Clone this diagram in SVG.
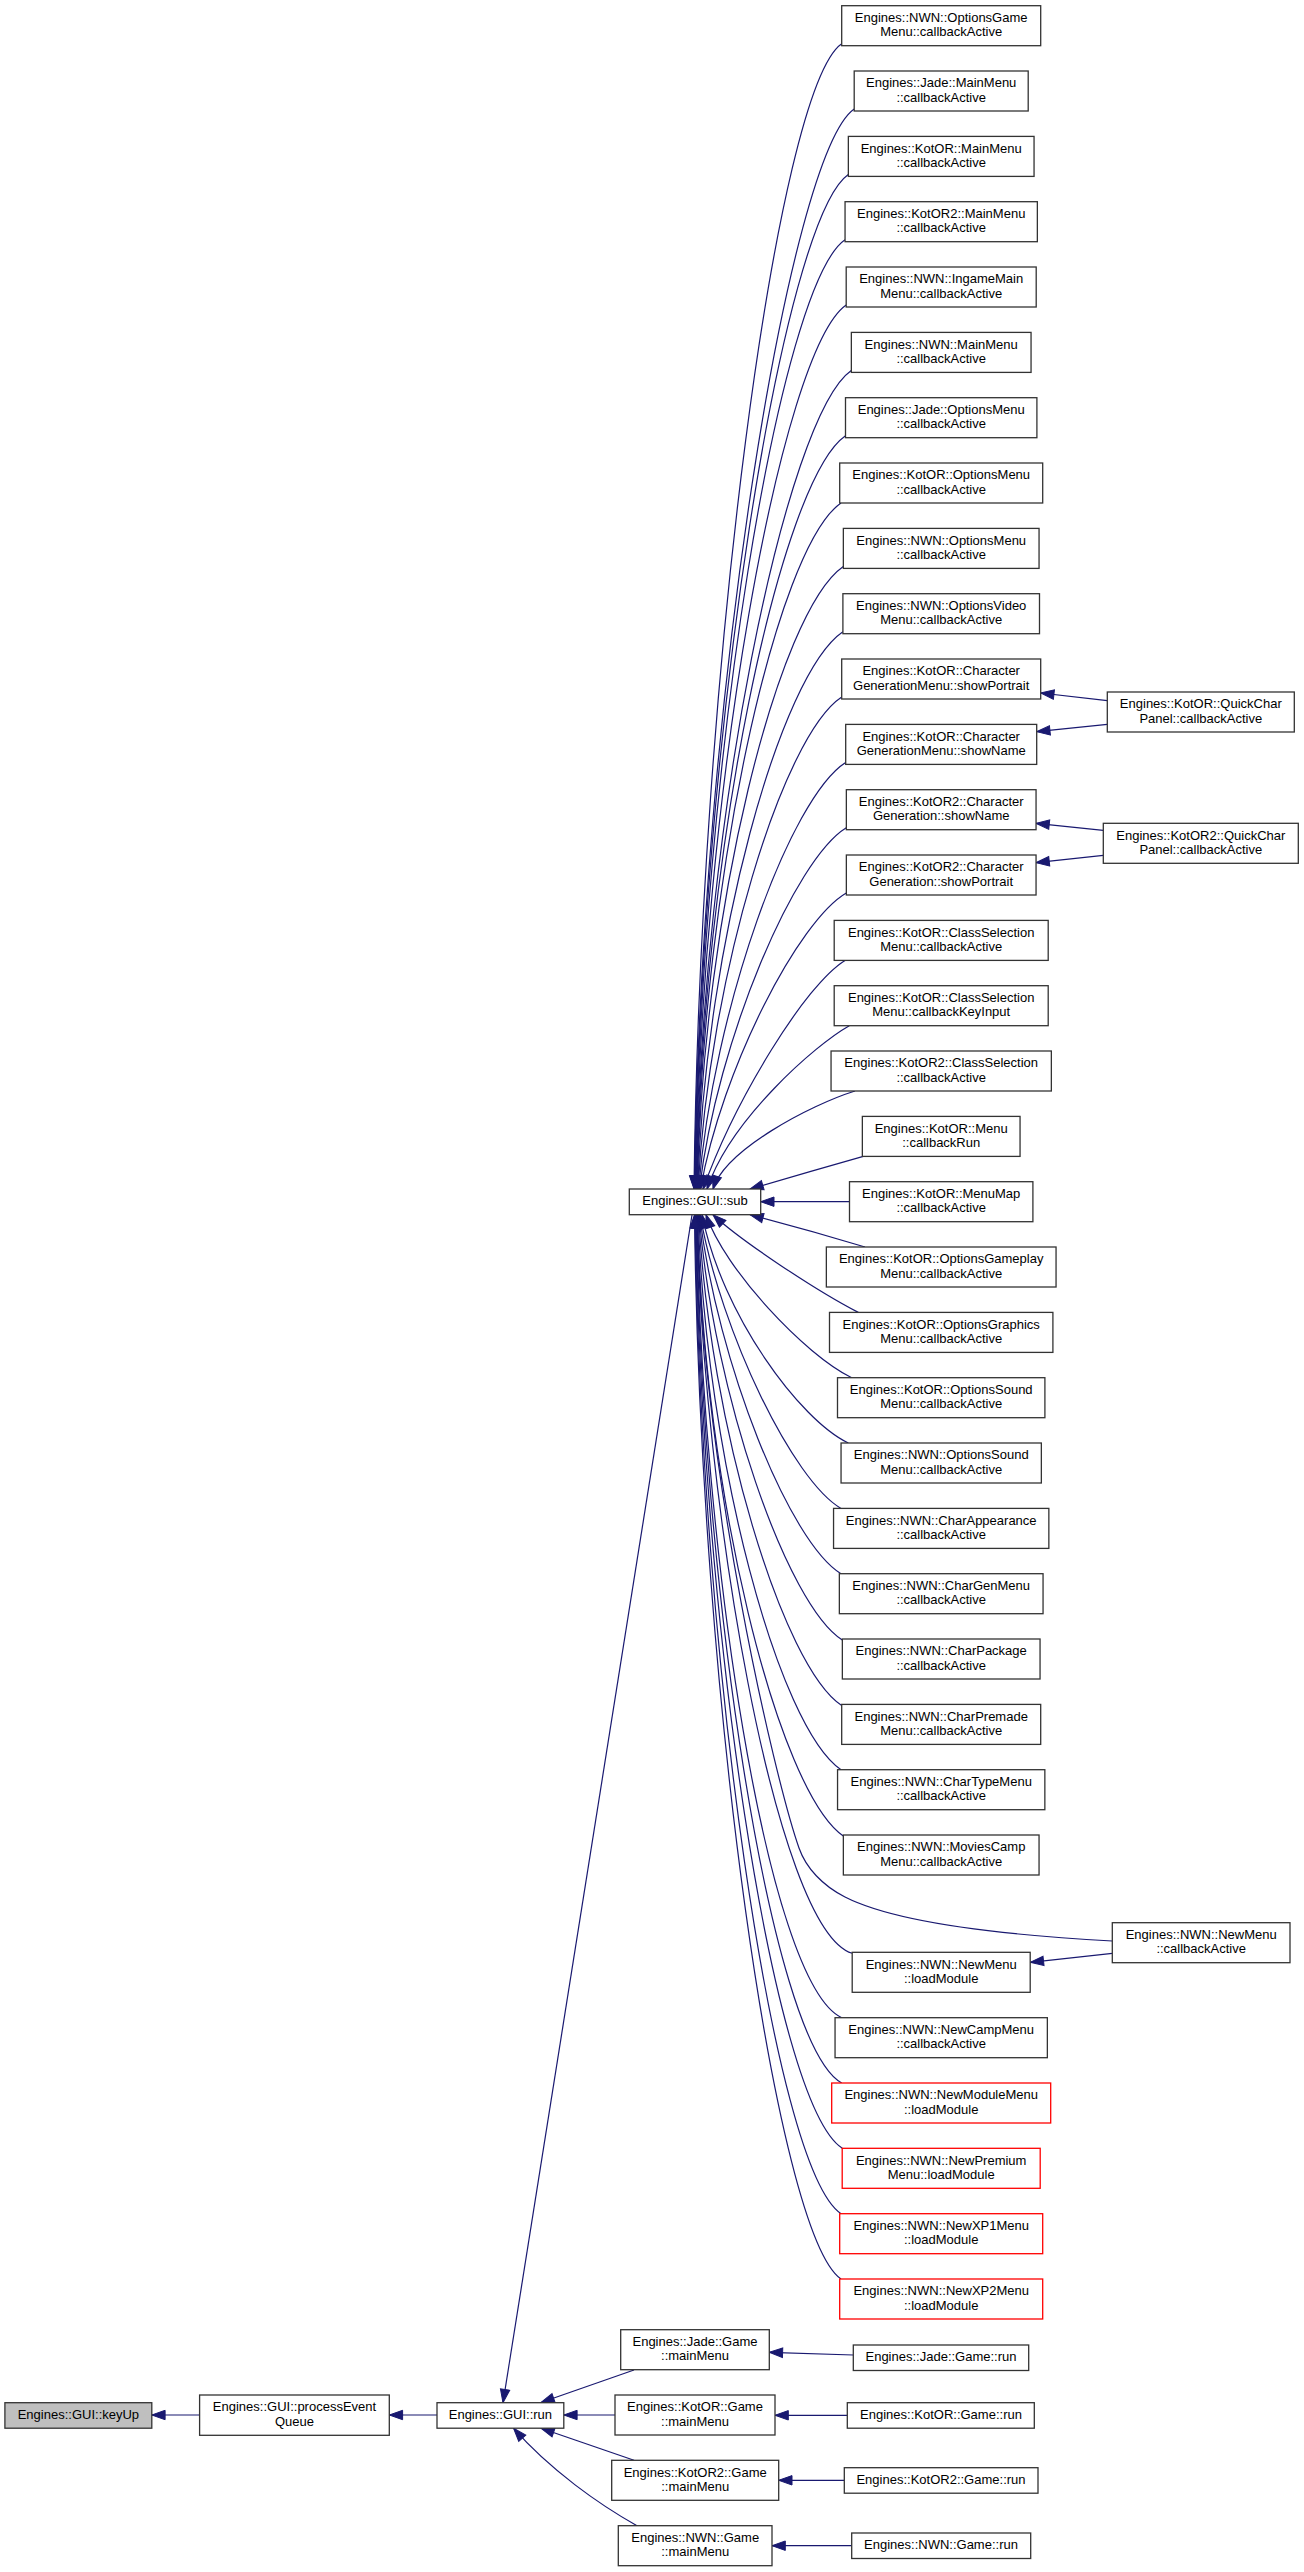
<svg xmlns="http://www.w3.org/2000/svg" width="1304" height="2572" viewBox="0 0 1304 2572">
<defs>
<style>
.n rect{fill:#fff;stroke:#333;stroke-width:1.3}
.r rect{stroke:#f00}
.g rect{fill:#bfbfbf}
text{font-family:"Liberation Sans",Arial,Helvetica,sans-serif;font-size:13px;fill:#000;text-anchor:middle}
.e path{fill:none;stroke:#191970;stroke-width:1.2;marker-end:url(#ah)}
</style>
<marker id="ah" viewBox="0 0 14 10" refX="13.3" refY="5" markerWidth="14" markerHeight="10" markerUnits="userSpaceOnUse" orient="auto" overflow="visible"><path d="M0,0.3 L13.3,5 L0,9.7 Z" fill="#191970" stroke="#191970" stroke-width="1"/></marker>
</defs>
<rect width="1304" height="2572" fill="#fff"/>
<g id="edges" class="e">
<path d="M841.7,43.7 C776.7,88.7 700,673.6 694,1189"/>
<path d="M854.2,109 C789.2,154 700.4,703 694.4,1189"/>
<path d="M848.3,174.4 C783.3,219.4 700.8,732.4 694.8,1189"/>
<path d="M845,239.7 C780,284.7 701.2,761.8 695.2,1189"/>
<path d="M846.2,305 C781.2,350 701.6,791.2 695.6,1189"/>
<path d="M851.3,370.4 C786.3,415.4 702,820.6 696,1189"/>
<path d="M845.5,435.7 C780.5,480.7 702.4,850 696.4,1189"/>
<path d="M841,503 C776,548 702.8,880.3 696.8,1189"/>
<path d="M843.3,566.4 C778.3,611.4 703.2,908.8 697.2,1189"/>
<path d="M842.9,631.7 C780.3,674.3 705.8,941.5 697.6,1189"/>
<path d="M841.7,697 C782.8,735.9 709.5,974.9 698,1189"/>
<path d="M845.7,762.4 C790.5,797.6 713.5,1007 698.6,1189"/>
<path d="M846.3,827.7 C794.8,859.2 717.7,1038 699.4,1189"/>
<path d="M846.3,893 C798.6,920.7 722.1,1067.9 700.5,1189"/>
<path d="M845,960.4 C805,985 735,1100 703,1189"/>
<path d="M849.3,1025.7 C815,1045 730,1120 707,1189"/>
<path d="M855,1091 C810,1105 725,1150 713,1189"/>
<path d="M863.3,1156.4 C830,1166 780,1180 750,1189"/>
<path d="M849.5,1201.7 L760.7,1201.7"/>
<path d="M865,1247 C832,1237 782,1223 750,1214.7"/>
<path d="M858.3,1312.4 C815,1290 740,1240 713,1214.7"/>
<path d="M851.7,1377.7 C805,1355 725,1270 706,1214.7"/>
<path d="M848.3,1443 C800,1420 722,1315 702,1214.7"/>
<path d="M841,1508.4 C793.4,1480.8 721.7,1334.7 700,1214.7"/>
<path d="M841,1573.7 C789.7,1542.4 717.9,1364.6 699.5,1214.7"/>
<path d="M842.3,1640 C787.2,1604.9 714,1396 699,1214.7"/>
<path d="M841.7,1705.4 C782.9,1666.6 710.1,1428.3 698.5,1214.7"/>
<path d="M841,1769.7 C778.6,1727.3 706.3,1461.1 698,1214.7"/>
<path d="M843.3,1836 C778.3,1791 703.5,1494.3 697.5,1214.7"/>
<path d="M1112.3,1941 C1020,1936 900,1925 845,1897 C822.7,1885.7 806,1868 799,1848 C774.5,1778 702,1468 697,1214.7"/>
<path d="M852.2,1953.3 C775,1930 703,1500 696.8,1214.7"/>
<path d="M841.7,2017.7 C766.7,1982.7 702,1552 696.5,1214.7"/>
<path d="M841.7,2083 C769.7,2043 701.5,1579.4 696,1214.7"/>
<path d="M842.3,2148.3 C772.3,2103.3 701,1616.2 695.5,1214.7"/>
<path d="M841,2213.7 C773,2168.7 700.5,1654.3 695,1214.7"/>
<path d="M841,2279 C776,2234 700,1693.6 694.5,1214.7"/>
<path d="M692,1215 L503,2402.7"/>
<path d="M634,2370 L541,2402.5"/>
<path d="M615,2415 L563.8,2415"/>
<path d="M634,2460.3 L541,2428.2"/>
<path d="M637,2525.7 C600,2505 550,2470 513.5,2428.2"/>
<path d="M437,2415 L389.3,2415"/>
<path d="M199.6,2415 L151.8,2415"/>
<path d="M853.3,2355 L769.3,2352.3"/>
<path d="M847.3,2415.3 L775,2415.3"/>
<path d="M844.3,2480.3 L778.7,2480.3"/>
<path d="M851.7,2545.7 L772,2545.7"/>
<path d="M1107.3,700.7 L1040.7,693"/>
<path d="M1107.3,724.3 L1036.7,731.7"/>
<path d="M1103.3,830.3 L1036,823.3"/>
<path d="M1103.3,855.3 L1036,862.7"/>
<path d="M1112.3,1953.3 L1030.3,1962.3"/>
</g>
<g id="n1" class="n"><rect x="841.7" y="5.7" width="199" height="40"/><text x="941.2" y="22">Engines::NWN::OptionsGame</text><text x="941.2" y="36.3">Menu::callbackActive</text></g>
<g id="n2" class="n"><rect x="854.2" y="71" width="174" height="40"/><text x="941.2" y="87.3">Engines::Jade::MainMenu</text><text x="941.2" y="101.6">::callbackActive</text></g>
<g id="n3" class="n"><rect x="848.35" y="136.4" width="185.7" height="40"/><text x="941.2" y="152.7">Engines::KotOR::MainMenu</text><text x="941.2" y="167">::callbackActive</text></g>
<g id="n4" class="n"><rect x="845.05" y="201.7" width="192.3" height="40"/><text x="941.2" y="218">Engines::KotOR2::MainMenu</text><text x="941.2" y="232.3">::callbackActive</text></g>
<g id="n5" class="n"><rect x="846.2" y="267" width="190" height="40"/><text x="941.2" y="283.3">Engines::NWN::IngameMain</text><text x="941.2" y="297.6">Menu::callbackActive</text></g>
<g id="n6" class="n"><rect x="851.35" y="332.4" width="179.7" height="40"/><text x="941.2" y="348.7">Engines::NWN::MainMenu</text><text x="941.2" y="363">::callbackActive</text></g>
<g id="n7" class="n"><rect x="845.5" y="397.7" width="191.4" height="40"/><text x="941.2" y="414">Engines::Jade::OptionsMenu</text><text x="941.2" y="428.3">::callbackActive</text></g>
<g id="n8" class="n"><rect x="839.7" y="463" width="203" height="40"/><text x="941.2" y="479.3">Engines::KotOR::OptionsMenu</text><text x="941.2" y="493.6">::callbackActive</text></g>
<g id="n9" class="n"><rect x="843.35" y="528.4" width="195.7" height="40"/><text x="941.2" y="544.7">Engines::NWN::OptionsMenu</text><text x="941.2" y="559">::callbackActive</text></g>
<g id="n10" class="n"><rect x="842.9" y="593.7" width="196.6" height="40"/><text x="941.2" y="610">Engines::NWN::OptionsVideo</text><text x="941.2" y="624.3">Menu::callbackActive</text></g>
<g id="n11" class="n"><rect x="841.7" y="659" width="199" height="40"/><text x="941.2" y="675.3">Engines::KotOR::Character</text><text x="941.2" y="689.6">GenerationMenu::showPortrait</text></g>
<g id="n12" class="n"><rect x="845.7" y="724.4" width="191" height="40"/><text x="941.2" y="740.7">Engines::KotOR::Character</text><text x="941.2" y="755">GenerationMenu::showName</text></g>
<g id="n13" class="n"><rect x="846.35" y="789.7" width="189.7" height="40"/><text x="941.2" y="806">Engines::KotOR2::Character</text><text x="941.2" y="820.3">Generation::showName</text></g>
<g id="n14" class="n"><rect x="846.35" y="855" width="189.7" height="40"/><text x="941.2" y="871.3">Engines::KotOR2::Character</text><text x="941.2" y="885.6">Generation::showPortrait</text></g>
<g id="n15" class="n"><rect x="834.2" y="920.4" width="214" height="40"/><text x="941.2" y="936.7">Engines::KotOR::ClassSelection</text><text x="941.2" y="951">Menu::callbackActive</text></g>
<g id="n16" class="n"><rect x="834.2" y="985.7" width="214" height="40"/><text x="941.2" y="1002">Engines::KotOR::ClassSelection</text><text x="941.2" y="1016.3">Menu::callbackKeyInput</text></g>
<g id="n17" class="n"><rect x="831.05" y="1051" width="220.3" height="40"/><text x="941.2" y="1067.3">Engines::KotOR2::ClassSelection</text><text x="941.2" y="1081.6">::callbackActive</text></g>
<g id="n18" class="n"><rect x="862.35" y="1116.4" width="157.7" height="40"/><text x="941.2" y="1132.7">Engines::KotOR::Menu</text><text x="941.2" y="1147">::callbackRun</text></g>
<g id="n19" class="n"><rect x="849.5" y="1181.7" width="183.4" height="40"/><text x="941.2" y="1198">Engines::KotOR::MenuMap</text><text x="941.2" y="1212.3">::callbackActive</text></g>
<g id="n20" class="n"><rect x="826.35" y="1247" width="229.7" height="40"/><text x="941.2" y="1263.3">Engines::KotOR::OptionsGameplay</text><text x="941.2" y="1277.6">Menu::callbackActive</text></g>
<g id="n21" class="n"><rect x="829.5" y="1312.4" width="223.4" height="40"/><text x="941.2" y="1328.7">Engines::KotOR::OptionsGraphics</text><text x="941.2" y="1343">Menu::callbackActive</text></g>
<g id="n22" class="n"><rect x="837.5" y="1377.7" width="207.4" height="40"/><text x="941.2" y="1394">Engines::KotOR::OptionsSound</text><text x="941.2" y="1408.3">Menu::callbackActive</text></g>
<g id="n23" class="n"><rect x="841.05" y="1443" width="200.3" height="40"/><text x="941.2" y="1459.3">Engines::NWN::OptionsSound</text><text x="941.2" y="1473.6">Menu::callbackActive</text></g>
<g id="n24" class="n"><rect x="833.55" y="1508.4" width="215.3" height="40"/><text x="941.2" y="1524.7">Engines::NWN::CharAppearance</text><text x="941.2" y="1539">::callbackActive</text></g>
<g id="n25" class="n"><rect x="839.35" y="1573.7" width="203.7" height="40"/><text x="941.2" y="1590">Engines::NWN::CharGenMenu</text><text x="941.2" y="1604.3">::callbackActive</text></g>
<g id="n26" class="n"><rect x="842.35" y="1639" width="197.7" height="40"/><text x="941.2" y="1655.3">Engines::NWN::CharPackage</text><text x="941.2" y="1669.6">::callbackActive</text></g>
<g id="n27" class="n"><rect x="841.7" y="1704.4" width="199" height="40"/><text x="941.2" y="1720.7">Engines::NWN::CharPremade</text><text x="941.2" y="1735">Menu::callbackActive</text></g>
<g id="n28" class="n"><rect x="837.55" y="1769.7" width="207.3" height="40"/><text x="941.2" y="1786">Engines::NWN::CharTypeMenu</text><text x="941.2" y="1800.3">::callbackActive</text></g>
<g id="n29" class="n"><rect x="843.35" y="1835" width="195.7" height="40"/><text x="941.2" y="1851.3">Engines::NWN::MoviesCamp</text><text x="941.2" y="1865.6">Menu::callbackActive</text></g>
<g id="n30" class="n"><rect x="852.2" y="1952.3" width="178" height="40"/><text x="941.2" y="1968.6">Engines::NWN::NewMenu</text><text x="941.2" y="1982.9">::loadModule</text></g>
<g id="n31" class="n"><rect x="835.05" y="2017.7" width="212.3" height="40"/><text x="941.2" y="2034">Engines::NWN::NewCampMenu</text><text x="941.2" y="2048.3">::callbackActive</text></g>
<g id="n32" class="n r"><rect x="831.7" y="2083" width="219" height="40"/><text x="941.2" y="2099.3">Engines::NWN::NewModuleMenu</text><text x="941.2" y="2113.6">::loadModule</text></g>
<g id="n33" class="n r"><rect x="842.2" y="2148.3" width="198" height="40"/><text x="941.2" y="2164.6">Engines::NWN::NewPremium</text><text x="941.2" y="2178.9">Menu::loadModule</text></g>
<g id="n34" class="n r"><rect x="839.7" y="2213.7" width="203" height="40"/><text x="941.2" y="2230">Engines::NWN::NewXP1Menu</text><text x="941.2" y="2244.3">::loadModule</text></g>
<g id="n35" class="n r"><rect x="839.7" y="2279" width="203" height="40"/><text x="941.2" y="2295.3">Engines::NWN::NewXP2Menu</text><text x="941.2" y="2309.6">::loadModule</text></g>
<g id="jaderun" class="n"><rect x="853.3" y="2345" width="175.4" height="25.5"/><text x="941" y="2361.3">Engines::Jade::Game::run</text></g>
<g id="kotorrun" class="n"><rect x="847.3" y="2402.7" width="187" height="25.5"/><text x="941" y="2419">Engines::KotOR::Game::run</text></g>
<g id="kotor2run" class="n"><rect x="844.3" y="2467.7" width="193.7" height="25.5"/><text x="941" y="2484">Engines::KotOR2::Game::run</text></g>
<g id="nwnrun" class="n"><rect x="851.7" y="2533" width="179" height="25.5"/><text x="941" y="2549.3">Engines::NWN::Game::run</text></g>
<g id="qc1" class="n"><rect x="1107.3" y="692" width="187" height="40"/><text x="1200.8" y="708.3">Engines::KotOR::QuickChar</text><text x="1200.8" y="722.6">Panel::callbackActive</text></g>
<g id="qc2" class="n"><rect x="1103.3" y="823.3" width="195" height="40"/><text x="1200.8" y="839.6">Engines::KotOR2::QuickChar</text><text x="1200.8" y="853.9">Panel::callbackActive</text></g>
<g id="newmenucb" class="n"><rect x="1112.3" y="1922.7" width="177.7" height="40"/><text x="1201.2" y="1939">Engines::NWN::NewMenu</text><text x="1201.2" y="1953.3">::callbackActive</text></g>
<g id="sub" class="n"><rect x="629.3" y="1189" width="131.4" height="25.7"/><text x="695" y="1205.3">Engines::GUI::sub</text></g>
<g id="jademm" class="n"><rect x="620.7" y="2329.7" width="148.6" height="40"/><text x="695" y="2346">Engines::Jade::Game</text><text x="695" y="2360.3">::mainMenu</text></g>
<g id="kotormm" class="n"><rect x="615" y="2395" width="160" height="40"/><text x="695" y="2411.3">Engines::KotOR::Game</text><text x="695" y="2425.6">::mainMenu</text></g>
<g id="kotor2mm" class="n"><rect x="611.7" y="2460.3" width="167" height="40"/><text x="695.2" y="2476.6">Engines::KotOR2::Game</text><text x="695.2" y="2490.9">::mainMenu</text></g>
<g id="nwnmm" class="n"><rect x="618.3" y="2525.7" width="153.7" height="40"/><text x="695.2" y="2542">Engines::NWN::Game</text><text x="695.2" y="2556.3">::mainMenu</text></g>
<g id="run" class="n"><rect x="437" y="2402.7" width="126.8" height="25.5"/><text x="500.4" y="2419">Engines::GUI::run</text></g>
<g id="pev" class="n"><rect x="199.6" y="2395" width="189.7" height="40.3"/><text x="294.5" y="2411.3">Engines::GUI::processEvent</text><text x="294.5" y="2425.6">Queue</text></g>
<g id="keyup" class="n g"><rect x="4.9" y="2402.7" width="146.9" height="25.5"/><text x="78.4" y="2419">Engines::GUI::keyUp</text></g>
</svg>
